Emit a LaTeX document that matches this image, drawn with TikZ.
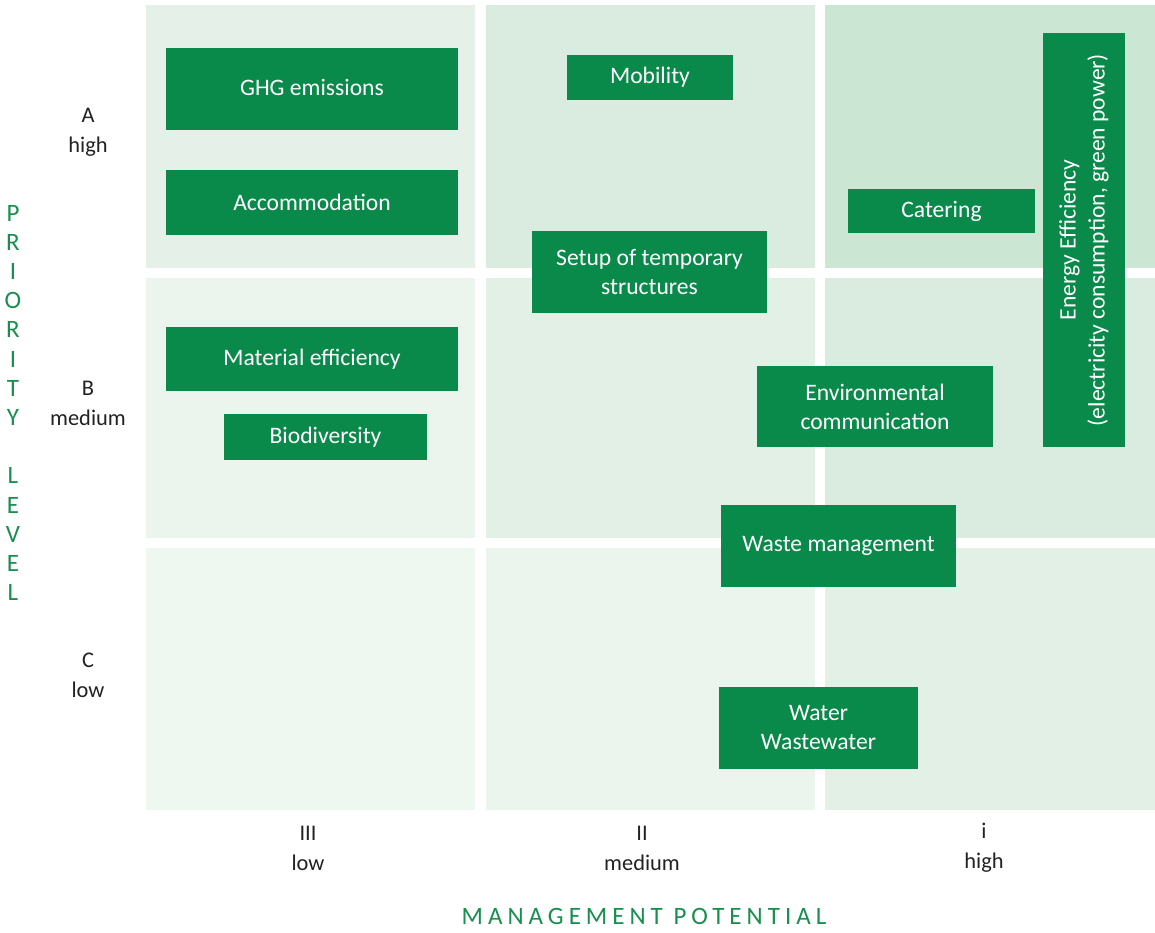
\documentclass[tikz,border=0pt]{standalone}
\usepackage{fontspec}
\setmainfont{Carlito}
\definecolor{boxgreen}{HTML}{0A8A4A}
\definecolor{titlegreen}{HTML}{17904F}
\definecolor{cAa}{HTML}{E5F1E8}
\definecolor{cAb}{HTML}{D9ECDF}
\definecolor{cAc}{HTML}{CBE6D3}
\definecolor{cBa}{HTML}{EBF5EE}
\definecolor{cBb}{HTML}{E2F0E6}
\definecolor{cBc}{HTML}{D9ECDF}
\definecolor{cCa}{HTML}{EFF7F1}
\definecolor{cCb}{HTML}{EBF5EE}
\definecolor{cCc}{HTML}{E2F0E6}
\definecolor{labelgray}{HTML}{222222}
\begin{document}
\begin{tikzpicture}[x=0.5pt,y=-0.5pt,
  item/.style={fill=boxgreen,text=white,inner sep=0pt,align=center,
    font=\fontsize{11.8}{14.5}\selectfont},
  axislab/.style={text=labelgray,align=center,font=\fontsize{11.2}{15}\selectfont},
  axtitle/.style={text=titlegreen,font=\fontsize{12.5}{14}\selectfont}]
\useasboundingbox (0,0) rectangle (1155,932);
\fill[white] (0,0) rectangle (1155,932);
% cells
\fill[cAa] (146,5) rectangle (475,268);
\fill[cAb] (486,5) rectangle (815,268);
\fill[cAc] (825,5) rectangle (1155,268);
\fill[cBa] (146,278) rectangle (475,538);
\fill[cBb] (486,278) rectangle (815,538);
\fill[cBc] (825,278) rectangle (1155,538);
\fill[cCa] (146,548) rectangle (475,810);
\fill[cCb] (486,548) rectangle (815,810);
\fill[cCc] (825,548) rectangle (1155,810);
% boxes
\node[item,minimum width=146pt,minimum height=41pt,text depth=0pt] (ghg) at (312,89) {\raisebox{2pt}{GHG emissions}};
\node[item,minimum width=146pt,minimum height=32.5pt] (acc) at (312,202.5) {Accommodation};
\node[item,minimum width=83pt,minimum height=22.5pt] (mob) at (650,77.5) {Mobility};
\node[item,minimum width=93.5pt,minimum height=22pt] (cat) at (941.5,211) {Catering};
\node[item,minimum width=207pt,minimum height=41pt,rotate=90] (energy) at (1084,240) {Energy Efficiency\\(electricity consumption, green power)};
\node[item,minimum width=117.5pt,minimum height=41pt] (setup) at (649.5,272) {Setup of temporary\\structures};
\node[item,minimum width=146pt,minimum height=32pt] (mat) at (312,359) {Material efficiency};
\node[item,minimum width=101.5pt,minimum height=23pt] (bio) at (325.5,437) {Biodiversity};
\node[item,minimum width=118pt,minimum height=40.5pt] (env) at (875,406.5) {Environmental\\communication};
\node[item,minimum width=117.5pt,minimum height=41pt] (waste) at (838.5,546) {Waste management};
\node[item,minimum width=99.5pt,minimum height=41pt] (water) at (818.5,728) {Water\\Wastewater};
% row labels
\node[axislab] (rowA) at (88,132) {A\\high};
\node[axislab] (rowB) at (88,403) {B\\medium};
\node[axislab] (rowC) at (88,675) {C\\low};
% column labels
\node[axislab] (colIII) at (308,848) {III\\low};
\node[axislab] (colII) at (642,848) {II\\medium};
\node[axislab] (colI) at (984,848) {i\\high};
% axis titles
\node[axtitle] (mgmt) at (644,916) {\addfontfeatures{LetterSpace=20}MANAGEMENT POTENTIAL};
\foreach \l [count=\i] in {P,R,I,O,R,I,T,Y,{},L,E,V,E,L}{
  \node[axtitle,anchor=center] (prio\i) at (13,{213+(\i-1)*29.2}) {\l};
}
\end{tikzpicture}
\end{document}
